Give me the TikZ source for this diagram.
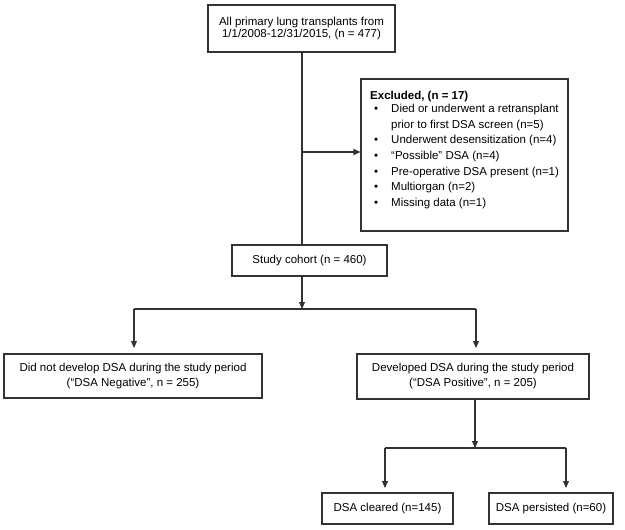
\documentclass[tikz,border=0pt]{standalone}
\usepackage{fontspec}
\setmainfont{Liberation Sans}
\usetikzlibrary{arrows.meta}
\begin{document}
\begin{tikzpicture}[x=1pt,y=-1pt,
  box/.style={draw=black!80, line width=1.1pt, inner sep=0pt, align=center, font=\fontsize{11.5}{15}\selectfont},
  conn/.style={draw=black!80, line width=1.1pt},
  arr/.style={conn, -{Triangle[length=7pt,width=6pt]}},
  txt/.style={inner sep=0pt, anchor=base west}]
\useasboundingbox (0,0) rectangle (625,530);
% boxes
\node[box, minimum width=187pt, minimum height=47pt, font=\fontsize{11.5}{12.8}\selectfont] (top) at (301.5,28.5) {All primary lung transplants from\\1/1/2008-12/31/2015, (n = 477)};
\node[box, minimum width=207pt, minimum height=152pt] (excl) at (464.5,155) {};
\node[txt, font=\fontsize{11.5}{15}\selectfont\bfseries] (exhead) at (370,99) {Excluded, (n = 17)};
\node[txt, font=\fontsize{11.5}{15.7}\selectfont] (exlist) at (370,112.4) {\begin{tabular}[t]{@{}l@{}l@{}}
\makebox[21pt][l]{\hspace{4pt}•} & Died or underwent a retransplant\\
 & prior to first DSA screen (n=5)\\
\makebox[21pt][l]{\hspace{4pt}•} & Underwent desensitization (n=4)\\
\makebox[21pt][l]{\hspace{4pt}•} & “Possible” DSA (n=4)\\
\makebox[21pt][l]{\hspace{4pt}•} & Pre-operative DSA present (n=1)\\
\makebox[21pt][l]{\hspace{4pt}•} & Multiorgan (n=2)\\
\makebox[21pt][l]{\hspace{4pt}•} & Missing data (n=1)
\end{tabular}};
\node[box, minimum width=155pt, minimum height=31pt] (study) at (309.5,260.5) {Study cohort (n = 460)};
\node[box, minimum width=258pt, minimum height=44pt] (neg) at (133,376) {Did not develop DSA during the study period\\(“DSA Negative”, n = 255)};
\node[box, minimum width=232pt, minimum height=45pt] (pos) at (473,376.5) {Developed DSA during the study period\\(“DSA Positive”, n = 205)};
\node[box, minimum width=131pt, minimum height=31pt] (clr) at (387.5,508.5) {DSA cleared (n=145)};
\node[box, minimum width=124pt, minimum height=31pt] (per) at (551,508.5) {DSA persisted (n=60)};
% connector points
\coordinate (j1) at (302,152);
\coordinate (j2) at (302,309);
\coordinate (l1) at (134,309);
\coordinate (r1) at (476,309);
\coordinate (l1e) at (134,348);
\coordinate (r1e) at (476,348);
\coordinate (j3) at (475,448);
\coordinate (l2) at (385,448);
\coordinate (r2) at (566,448);
\coordinate (l2e) at (385,488);
\coordinate (r2e) at (566,488);
% connectors
\draw[conn] (top.south -| j1) -- (j1 |- study.north);
\draw[arr] (j1) -- (j1 -| excl.west);
\draw[arr] (study.south -| j2) -- (j2);
\draw[conn] (l1) -- (r1);
\draw[arr] (l1) -- (l1e);
\draw[arr] (r1) -- (r1e);
\draw[arr] (pos.south -| j3) -- (j3);
\draw[conn] (l2) -- (r2);
\draw[arr] (l2) -- (l2e);
\draw[arr] (r2) -- (r2e);
\end{tikzpicture}
\end{document}
